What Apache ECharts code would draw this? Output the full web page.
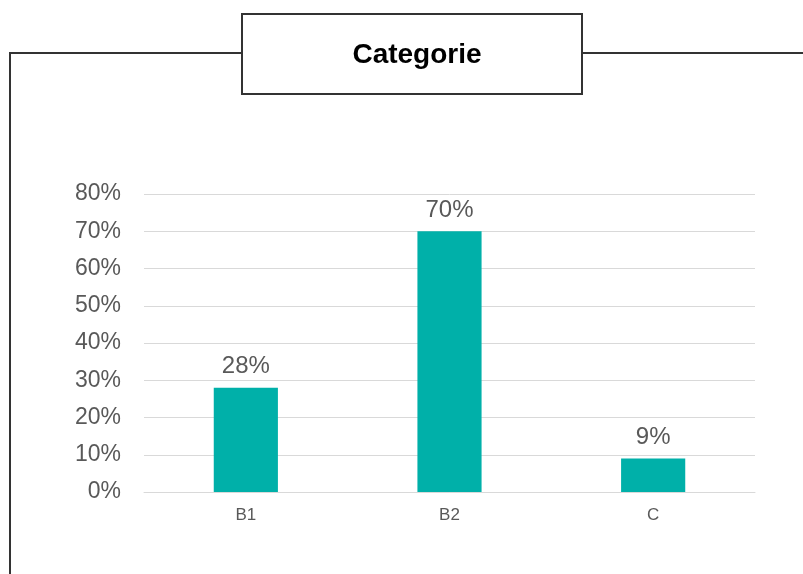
<!DOCTYPE html>
<html>
<head>
<meta charset="utf-8">
<script src="https://cdn.jsdelivr.net/npm/echarts@6/dist/echarts.min.js"></script>
<style>
  html, body { margin: 0; padding: 0; background: #ffffff; }
  #chart { width: 803px; height: 574px; }
</style>
</head>
<body>
<div id="chart"></div>
<script>
// Share of each category, in percent
const categories = ['B1', 'B2', 'C'];
const shares = [28, 70, 9];
const yTicks = [0, 10, 20, 30, 40, 50, 60, 70, 80];

const chart = echarts.init(document.getElementById('chart'), null, { renderer: 'canvas' });

const frameColor = '#333333';

chart.setOption({
  animation: false,
  backgroundColor: '#ffffff',
  textStyle: { fontFamily: 'Liberation Sans, Arial, sans-serif' },
  title: {
    text: 'Categorie',
    left: 412,
    top: 50,
    textAlign: 'center',
    textVerticalAlign: 'middle',
    textStyle: {
      fontFamily: 'Liberation Sans, Arial, sans-serif',
      fontWeight: 'bold',
      fontSize: 28,
      color: '#000000'
    }
  },
  graphic: [
    // outer frame: left part, down the side, right part
    {
      type: 'polyline',
      silent: true,
      shape: { points: [[242, 53], [10, 53], [10, 580]] },
      style: { stroke: frameColor, lineWidth: 2, fill: null }
    },
    {
      type: 'line',
      silent: true,
      shape: { x1: 582, y1: 53, x2: 810, y2: 53 },
      style: { stroke: frameColor, lineWidth: 2 }
    },
    // box around the title
    {
      type: 'rect',
      silent: true,
      z: -1,
      shape: { x: 242, y: 14, width: 340, height: 80 },
      style: { stroke: frameColor, lineWidth: 2, fill: '#ffffff' }
    }
  ],
  grid: {
    left: 144,
    right: 48,
    top: 194,
    bottom: 82,
    containLabel: false
  },
  xAxis: {
    type: 'category',
    data: categories,
    axisLine: { show: true, lineStyle: { color: '#d9d9d9', width: 1 } },
    axisTick: { show: false },
    axisLabel: {
      color: '#595959',
      fontSize: 17,
      margin: 15
    }
  },
  yAxis: {
    type: 'value',
    min: yTicks[0],
    max: yTicks[yTicks.length - 1],
    interval: 10,
    axisLine: { show: false },
    axisTick: { show: false },
    splitLine: { lineStyle: { color: '#d9d9d9', width: 1 } },
    axisLabel: {
      color: '#595959',
      fontSize: 23,
      margin: 23,
      formatter: v => v + '%'
    }
  },
  series: [{
    type: 'bar',
    data: shares,
    barWidth: '31.5%',
    itemStyle: { color: '#00B0A9' },
    label: {
      show: true,
      position: 'top',
      distance: 9,
      color: '#595959',
      fontSize: 24,
      formatter: p => p.value + '%'
    }
  }]
});
</script>
</body>
</html>
